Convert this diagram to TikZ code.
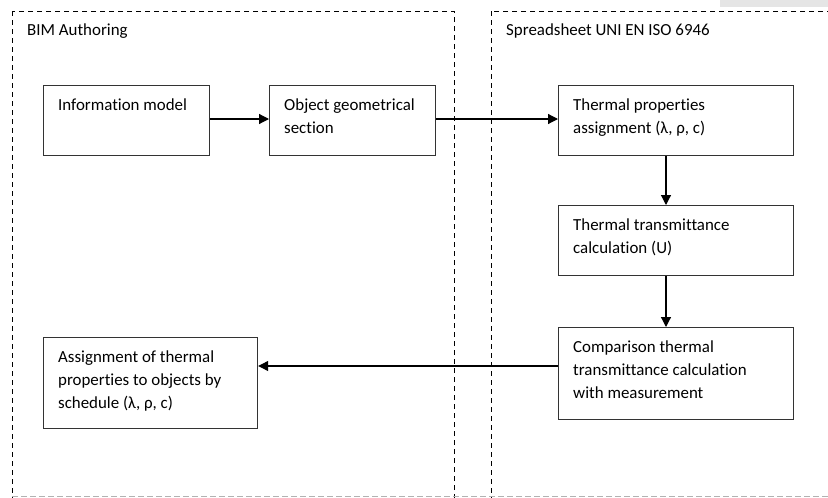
\documentclass[tikz,border=0pt]{standalone}
\usepackage{fontspec}
\setmainfont{Carlito}[Ligatures={NoCommon}]
\usetikzlibrary{arrows.meta}
\begin{document}
\begin{tikzpicture}[x=1pt,y=-1pt,
  every node/.style={font=\fontsize{16.9}{23}\selectfont, text=black},
  group/.style={draw=black, line width=1pt, dash pattern=on 5pt off 4pt},
  procbox/.style={draw=black!80, line width=1.2pt, rectangle, anchor=north west, inner sep=0pt},
  txt/.style={anchor=base west, inner sep=0pt, align=left},
  flow/.style={line width=1.2pt, draw=black, -{Triangle[length=10pt,width=10pt]}}
]
\useasboundingbox (0,0) rectangle (828,498);
\clip (0,0) rectangle (828,498);
\fill[white] (0,0) rectangle (828,498);
% top-right grey patch
\fill[black!10] (720,0) rectangle (828,6.5);
% group frames
\draw[group] (12,11) rectangle (454,520);
\draw[group] (491,11) rectangle (850,520);
\draw[black!30, line width=0.8pt, dash pattern=on 6pt off 3pt] (12,496.5) -- (828,496.5);
\node[txt] (lblA) at (27,35) {BIM Authoring};
\node[txt] (lblB) at (506,35) {Spreadsheet UNI EN ISO 6946};
% boxes
\node[procbox, minimum width=166pt, minimum height=70pt] (info) at (43,85) {};
\node[procbox, minimum width=166pt, minimum height=70pt] (geom) at (269,85) {};
\node[procbox, minimum width=235pt, minimum height=70pt] (therm) at (558,85) {};
\node[procbox, minimum width=235pt, minimum height=70pt] (trans) at (558,205) {};
\node[procbox, minimum width=235pt, minimum height=92pt] (comp) at (558,327) {};
\node[procbox, minimum width=214pt, minimum height=91pt] (assign) at (43,337) {};
% texts (anchored at the baseline of their last line)
\node[txt] (t1) at (58,110) {Information model};
\node[txt] (t2) at (284,133) {Object geometrical\\section};
\node[txt] (t3) at (573,133) {Thermal properties\\assignment (λ, ρ, c)};
\node[txt] (t4) at (573,253) {Thermal transmittance\\calculation (U)};
\node[txt] (t5) at (573,398) {Comparison thermal\\transmittance calculation\\with measurement};
\node[txt] (t6) at (58,408) {Assignment of thermal\\properties to objects by\\schedule (λ, ρ, c)};
% connectors
\draw[flow] (info.east |- 0,119) -- (geom.west |- 0,119);
\draw[flow] (geom.east |- 0,119) -- (therm.west |- 0,119);
\draw[flow] (therm.south -| 666,0) -- (trans.north -| 666,0);
\draw[flow] (trans.south -| 666,0) -- (comp.north -| 666,0);
\draw[flow] (comp.west |- 0,366) -- (assign.east |- 0,366);
\end{tikzpicture}
\end{document}
